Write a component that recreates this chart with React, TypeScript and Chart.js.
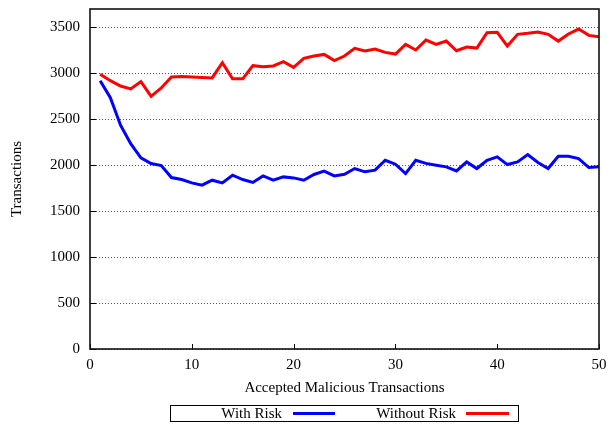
import React, { useEffect, useRef } from "react";
import { Chart, registerables } from "chart.js";

Chart.register(...registerables);

const xValues = [
  1, 2, 3, 4, 5, 6, 7, 8, 9, 10,
  11, 12, 13, 14, 15, 16, 17, 18, 19, 20,
  21, 22, 23, 24, 25, 26, 27, 28, 29, 30,
  31, 32, 33, 34, 35, 36, 37, 38, 39, 40,
  41, 42, 43, 44, 45, 46, 47, 48, 49, 50,
];

const withRisk = [
  2920, 2735, 2435, 2235, 2080, 2018, 1996, 1866, 1844, 1808,
  1783, 1837, 1808, 1891, 1844, 1812, 1884, 1837, 1873, 1862,
  1837, 1899, 1935, 1884, 1902, 1964, 1928, 1946, 2054, 2011,
  1909, 2054, 2020, 2000, 1982, 1938, 2036, 1964, 2054, 2091,
  2007, 2036, 2116, 2029, 1964, 2098, 2098, 2072, 1975, 1982,
];

const withoutRisk = [
  2990, 2920, 2862, 2830, 2910, 2750, 2840, 2960, 2965, 2960,
  2955, 2950, 3115, 2940, 2940, 3083, 3072, 3080, 3127, 3065,
  3163, 3188, 3206, 3138, 3188, 3272, 3243, 3264, 3228, 3210,
  3315, 3254, 3362, 3315, 3351, 3246, 3286, 3275, 3442, 3446,
  3297, 3424, 3435, 3449, 3424, 3351, 3428, 3482, 3413, 3398,
];

const yTickValues = [0, 500, 1000, 1500, 2000, 2500, 3000, 3500];
const xTickValues = [0, 10, 20, 30, 40, 50];

const seriesLabels = ["With Risk", "Without Risk"];
const seriesColors = ["#0000ff", "#ff0000"];
const xTitle = "Accepted Malicious Transactions";
const yTitle = "Transactions";

const FONT = "'Liberation Serif', 'Times New Roman', serif";

const framePlugin = {
  id: "frame",
  afterDraw(chart: any) {
    const { ctx, chartArea } = chart;
    const { left, right, top, bottom } = chartArea;
    ctx.save();
    ctx.strokeStyle = "#000";
    ctx.lineWidth = 1;
    // inward ticks
    const ys = chart.scales.y;
    ys.ticks.forEach((t: any) => {
      const py = Math.round(ys.getPixelForValue(t.value)) + 0.5;
      ctx.beginPath();
      ctx.moveTo(left, py);
      ctx.lineTo(left + 6, py);
      ctx.stroke();
    });
    const xs = chart.scales.x;
    xs.ticks.forEach((t: any) => {
      const px = Math.round(xs.getPixelForValue(t.value)) + 0.5;
      ctx.beginPath();
      ctx.moveTo(px, bottom);
      ctx.lineTo(px, bottom - 5);
      ctx.stroke();
    });
    // frame
    ctx.lineWidth = 1.6;
    ctx.strokeStyle = "#111";
    ctx.strokeRect(left, top, right - left, bottom - top);

    // legend (gnuplot style: text then sample line)
    const boxL = 170.5, boxR = 518.5, boxT = 405.5, boxB = 421.5;
    ctx.lineWidth = 1;
    ctx.strokeStyle = "#000";
    ctx.strokeRect(boxL, boxT, boxR - boxL, boxB - boxT);
    const textRight = [282, 456];
    const lineStart = [293, 466];
    const lineEnd = [335, 509];
    ctx.font = `15px ${FONT}`;
    ctx.textAlign = "right";
    ctx.textBaseline = "middle";
    chart.data.datasets.forEach((ds: any, i: number) => {
      ctx.fillStyle = "#000";
      ctx.fillText(ds.label, textRight[i], 414);
      ctx.strokeStyle = ds.borderColor;
      ctx.lineWidth = 3;
      ctx.beginPath();
      ctx.moveTo(lineStart[i], 413.5);
      ctx.lineTo(lineEnd[i], 413.5);
      ctx.stroke();
    });
    ctx.restore();
  },
};

export default function App() {
  const canvasRef = useRef<HTMLCanvasElement | null>(null);

  useEffect(() => {
    const canvas = canvasRef.current;
    if (!canvas) return;
    Chart.defaults.font.family = FONT;
    Chart.defaults.font.size = 15;
    Chart.defaults.color = "#000";

    const series = [withRisk, withoutRisk];
    const chart = new Chart(canvas, {
      type: "line",
      data: {
        datasets: series.map((vals, i) => ({
          label: seriesLabels[i],
          data: xValues.map((x, j) => ({ x, y: vals[j] })),
          borderColor: seriesColors[i],
          backgroundColor: seriesColors[i],
          borderWidth: 3,
          pointRadius: 0,
          tension: 0,
          fill: false,
        })),
      },
      options: {
        animation: false,
        responsive: false,
        devicePixelRatio: 1,
        layout: { padding: { top: 9, right: 12, bottom: 0, left: 0 } },
        plugins: {
          legend: { display: false },
          tooltip: { enabled: false },
        },
        scales: {
          x: {
            type: "linear",
            min: 0,
            max: 50,
            ticks: {
              padding: 7,
              maxRotation: 0,
              autoSkip: false,
              callback: (v: any) => String(v),
            },
            afterBuildTicks: (axis: any) => {
              axis.ticks = xTickValues.map((v) => ({ value: v }));
            },
            grid: { display: false, drawTicks: false },
            border: { display: false },
            title: {
              display: true,
              text: xTitle,
              padding: { top: 0, bottom: 29 },
            },
            afterFit: (scale: any) => {
              scale.height = 77;
              scale.paddingLeft = 0;
              scale.paddingRight = 0;
              scale.paddingTop = 0;
              scale.paddingBottom = 0;
            },
          },
          y: {
            type: "linear",
            min: 0,
            max: 3700,
            ticks: {
              padding: 10,
              autoSkip: false,
              callback: (v: any) => String(v),
            },
            afterBuildTicks: (axis: any) => {
              axis.ticks = yTickValues.map((v) => ({ value: v }));
            },
            grid: { display: true, drawTicks: false, color: "#555", lineWidth: 1 },
            border: { display: false, dash: [1, 2] },
            title: {
              display: true,
              text: yTitle,
              padding: { top: 8, bottom: 0 },
            },
            afterFit: (scale: any) => {
              scale.width = 90;
              scale.paddingLeft = 0;
              scale.paddingRight = 0;
              scale.paddingTop = 0;
              scale.paddingBottom = 0;
            },
          },
        },
      },
      plugins: [framePlugin],
    });
    return () => chart.destroy();
  }, []);

  return (
    <div style={{ position: "fixed", left: 0, top: 0, width: 611, height: 426, background: "#fff" }}>
      <canvas ref={canvasRef} width={611} height={426} style={{ display: "block", width: 611, height: 426 }} />
    </div>
  );
}
